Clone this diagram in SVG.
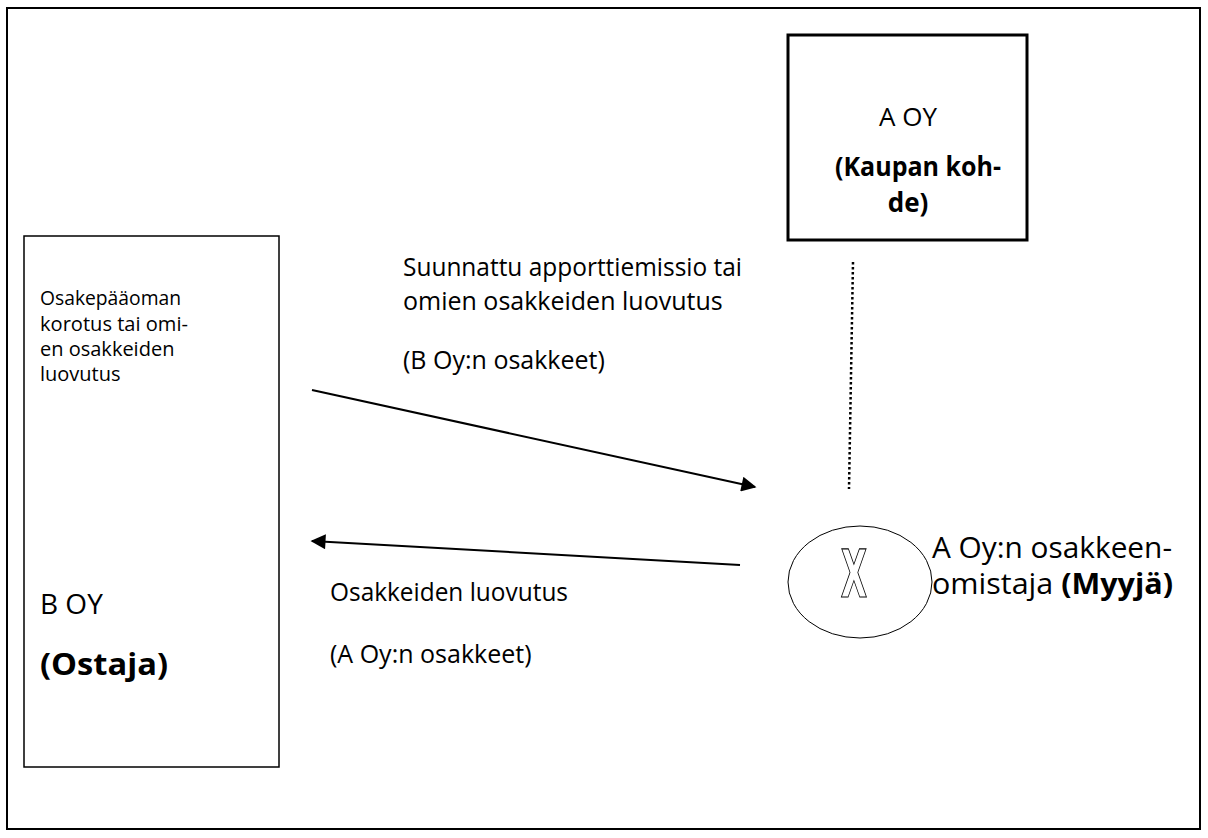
<svg xmlns="http://www.w3.org/2000/svg" width="1208" height="838" viewBox="0 0 1208 838">
<defs>
<style>
text{font-family:"Open Sans","Noto Sans","DejaVu Sans",sans-serif;fill:#000}
.s{font-size:20px}
.m{font-size:25px}
.l{font-size:28px}
.b{font-weight:bold}
.box{fill:#fff;stroke:#000}
.conn{stroke:#000;stroke-width:2;fill:none}
</style>
<marker id="ah2" viewBox="0 0 10 10" refX="9" refY="5" markerWidth="17" markerHeight="15" markerUnits="userSpaceOnUse" orient="auto">
<path d="M0,0 L10,5 L0,10 z" fill="#000"/>
</marker>
</defs>
<rect x="7" y="8" width="1193" height="821" fill="#fff" stroke="#000" stroke-width="2"/>
<g id="connectors">
<line class="conn" x1="312" y1="390" x2="755" y2="487" marker-end="url(#ah2)"/>
<line class="conn" x1="740" y1="565" x2="312" y2="541" marker-end="url(#ah2)"/>
<line x1="853" y1="262" x2="849" y2="489" stroke="#000" stroke-width="2.5" stroke-dasharray="2.5 2.5"/>
</g>
<g id="label-upper">
<text class="m" x="403" y="276" textLength="339" lengthAdjust="spacingAndGlyphs">Suunnattu apporttiemissio tai</text>
<text class="m" x="403" y="310">omien osakkeiden luovutus</text>
<text class="m" x="403" y="369">(B Oy:n osakkeet)</text>
</g>
<g id="label-lower">
<text class="m" x="330" y="601" textLength="238" lengthAdjust="spacingAndGlyphs">Osakkeiden luovutus</text>
<text class="m" x="330" y="663">(A Oy:n osakkeet)</text>
</g>
<g id="node-a-oy">
<rect class="box" x="788" y="35" width="239" height="205" stroke-width="3"/>
<text x="908" y="126" text-anchor="middle" style="font-size:26px">A OY</text>
<text class="b" x="918" y="176" text-anchor="middle" style="font-size:26px" textLength="166" lengthAdjust="spacingAndGlyphs">(Kaupan koh-</text>
<text class="b" x="908" y="212" text-anchor="middle" style="font-size:26px">de)</text>
</g>
<g id="node-b-oy">
<rect class="box" x="24" y="236" width="255" height="531" stroke-width="1.5"/>
<text class="s" x="40" y="305" textLength="141" lengthAdjust="spacingAndGlyphs">Osakepääoman</text>
<text class="s" x="40" y="331" textLength="148" lengthAdjust="spacingAndGlyphs">korotus tai omi-</text>
<text class="s" x="40" y="356">en osakkeiden</text>
<text class="s" x="40" y="381">luovutus</text>
<text class="l" x="40" y="614">B OY</text>
<text class="b" x="40" y="675" style="font-size:30px" textLength="128" lengthAdjust="spacingAndGlyphs">(Ostaja)</text>
</g>
<g id="node-seller">
<ellipse cx="860" cy="582" rx="72" ry="56" fill="#fff" stroke="#000" stroke-width="1"/>
<text transform="translate(854,597) scale(1,1.72)" x="0" y="0" text-anchor="middle" style="font-family:'DejaVu Sans Condensed','DejaVu Sans',sans-serif;font-size:38px;font-weight:bold;fill:#fff;stroke:#000;stroke-width:0.7">X</text>
<text x="932" y="558" style="font-size:29px" textLength="240" lengthAdjust="spacingAndGlyphs">A Oy:n osakkeen-</text>
<text x="932" y="594" style="font-size:29px" textLength="241" lengthAdjust="spacingAndGlyphs">omistaja <tspan class="b">(Myyjä)</tspan></text>
</g>
</svg>
